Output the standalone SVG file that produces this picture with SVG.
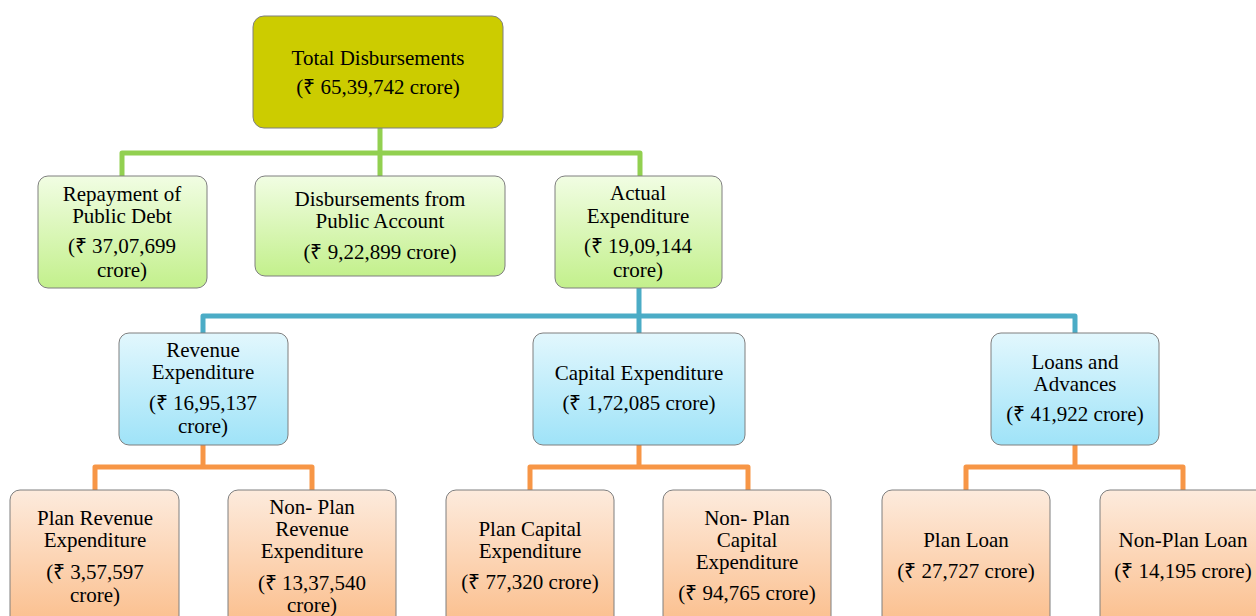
<svg xmlns="http://www.w3.org/2000/svg" width="1256" height="616" viewBox="0 0 1256 616">
<defs>
<linearGradient id="gG" x1="0" y1="0" x2="0" y2="1"><stop offset="0" stop-color="#f1fde3"/><stop offset="1" stop-color="#c3f08c"/></linearGradient>
<linearGradient id="gB" x1="0" y1="0" x2="0" y2="1"><stop offset="0" stop-color="#e2f7fd"/><stop offset="1" stop-color="#9fe3f8"/></linearGradient>
<linearGradient id="gO" x1="0" y1="0" x2="0" y2="1"><stop offset="0" stop-color="#fdebdd"/><stop offset="1" stop-color="#fbbd8a"/></linearGradient>
</defs>
<style>
text{font-family:"Liberation Serif","Times New Roman",serif;font-size:21px;fill:#000;text-anchor:middle}
.box{stroke:#7f7f7f;stroke-width:1}
.top{fill:#cccc00}
.g{fill:url(#gG)}
.b{fill:url(#gB)}
.o{fill:url(#gO)}
.c{fill:none;stroke-width:5;stroke-linejoin:round}
.cg{stroke:#92d050}
.cb{stroke:#4bacc6}
.co{stroke:#f79646}
</style>
<g id="connectors">
<path class="c cg" d="M380 128V176M122 176V153H640V176"/>
<path class="c cb" d="M639 288V333M203 333V316H1075V333"/>
<path class="c co" d="M203 445V467M95 490V467H312V490"/>
<path class="c co" d="M639 445V467M530 490V467H748V490"/>
<path class="c co" d="M1075 445V467M966 490V467H1183V490"/>
</g>
<g id="total"><rect class="box top" x="253" y="16" width="250" height="112" rx="11"/>
<text x="378" y="65">Total Disbursements</text><text x="378" y="94">(₹ 65,39,742 crore)</text></g>
<g id="repayment"><rect class="box g" x="38" y="176" width="169" height="112" rx="10"/>
<text x="122" y="201">Repayment of</text><text x="122" y="223">Public Debt</text><text x="122" y="253">(₹ 37,07,699</text><text x="122" y="277">crore)</text></g>
<g id="public-account"><rect class="box g" x="255" y="176" width="250" height="100" rx="10"/>
<text x="380" y="206">Disbursements from</text><text x="380" y="228">Public Account</text><text x="380" y="259">(₹ 9,22,899 crore)</text></g>
<g id="actual"><rect class="box g" x="555" y="176" width="167" height="112" rx="10"/>
<text x="638" y="200">Actual</text><text x="638" y="223">Expenditure</text><text x="638" y="253">(₹ 19,09,144</text><text x="638" y="277">crore)</text></g>
<g id="revenue"><rect class="box b" x="119" y="333" width="169" height="112" rx="10"/>
<text x="203" y="357">Revenue</text><text x="203" y="379">Expenditure</text><text x="203" y="410">(₹ 16,95,137</text><text x="203" y="433">crore)</text></g>
<g id="capital"><rect class="box b" x="533" y="333" width="212" height="112" rx="10"/>
<text x="639" y="380">Capital Expenditure</text><text x="639" y="410">(₹ 1,72,085 crore)</text></g>
<g id="loans"><rect class="box b" x="991" y="333" width="168" height="112" rx="10"/>
<text x="1075" y="369">Loans and</text><text x="1075" y="391">Advances</text><text x="1075" y="421">(₹ 41,922 crore)</text></g>
<g id="plan-revenue"><rect class="box o" x="10" y="490" width="169" height="140" rx="10"/>
<text x="95" y="525">Plan Revenue</text><text x="95" y="547">Expenditure</text><text x="95" y="579">(₹ 3,57,597</text><text x="95" y="602">crore)</text></g>
<g id="nonplan-revenue"><rect class="box o" x="228" y="490" width="168" height="140" rx="10"/>
<text x="312" y="514">Non- Plan</text><text x="312" y="536">Revenue</text><text x="312" y="558">Expenditure</text><text x="312" y="590">(₹ 13,37,540</text><text x="312" y="612">crore)</text></g>
<g id="plan-capital"><rect class="box o" x="446" y="490" width="168" height="140" rx="10"/>
<text x="530" y="536">Plan Capital</text><text x="530" y="558">Expenditure</text><text x="530" y="589">(₹ 77,320 crore)</text></g>
<g id="nonplan-capital"><rect class="box o" x="663" y="490" width="168" height="140" rx="10"/>
<text x="747" y="525">Non- Plan</text><text x="747" y="547">Capital</text><text x="747" y="569">Expenditure</text><text x="747" y="600">(₹ 94,765 crore)</text></g>
<g id="plan-loan"><rect class="box o" x="882" y="490" width="168" height="140" rx="10"/>
<text x="966" y="547">Plan Loan</text><text x="966" y="578">(₹ 27,727 crore)</text></g>
<g id="nonplan-loan"><rect class="box o" x="1100" y="490" width="168" height="140" rx="10"/>
<text x="1183" y="547">Non-Plan Loan</text><text x="1183" y="578">(₹ 14,195 crore)</text></g>
</svg>
